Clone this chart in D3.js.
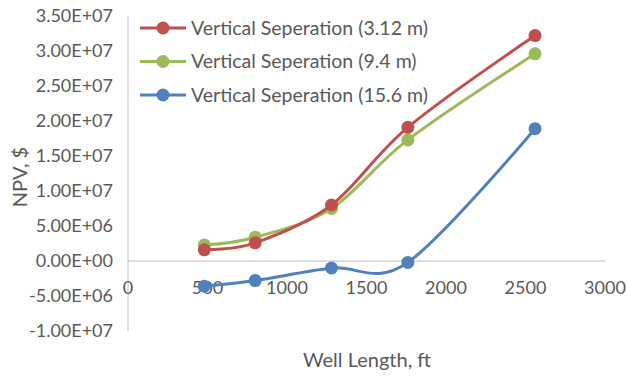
<!DOCTYPE html>
<html>
<head>
<meta charset="utf-8">
<script src="https://cdn.jsdelivr.net/npm/d3@7"></script>
<style>
  body { margin: 0; background: #fff; }
  svg text { font-family: Lato, "Open Sans", sans-serif; fill: #595959; }
</style>
</head>
<body>
<div id="chart"></div>
<script>
var wellLength = [480, 800, 1280, 1760, 2560];
var sep312 = [1.6e6, 2.6e6, 8.0e6, 1.91e7, 3.22e7];
var sep94 = [2.3e6, 3.4e6, 7.5e6, 1.73e7, 2.96e7];
var sep156 = [-3.6e6, -2.8e6, -1.0e6, -0.2e6, 1.89e7];
var seriesNames = ["Vertical Seperation (3.12 m)", "Vertical Seperation (9.4 m)", "Vertical Seperation (15.6 m)"];
var seriesColors = ["#c0504d", "#9bbb59", "#4f81bd"];
var xTicks = [0, 500, 1000, 1500, 2000, 2500, 3000];
var yTicks = [-1e7, -5e6, 0, 5e6, 1e7, 1.5e7, 2e7, 2.5e7, 3e7, 3.5e7];

var width = 627, height = 377;
var svg = d3.select("#chart").append("svg")
    .attr("width", width)
    .attr("height", height);

var x = d3.scaleLinear().domain([0, 3000]).range([128, 605]);
var y = d3.scaleLinear().domain([-1e7, 3.5e7]).range([331, 16]);

// axis lines
svg.append("line")
    .attr("x1", x(0)).attr("x2", x(0))
    .attr("y1", y(3.5e7)).attr("y2", y(-1e7))
    .attr("stroke", "#bfbfbf").attr("stroke-width", 1);
svg.append("line")
    .attr("x1", x(0)).attr("x2", x(3000))
    .attr("y1", y(0)).attr("y2", y(0))
    .attr("stroke", "#bfbfbf").attr("stroke-width", 1);

function fmt(v) {
    if (v == 0) return "0.00E+00";
    var e = Math.floor(Math.log10(Math.abs(v)));
    var m = v / Math.pow(10, e);
    return m.toFixed(2) + "E+" + (e < 10 ? "0" + e : e);
}

svg.selectAll(".ylab").data(yTicks).enter().append("text")
    .attr("class", "ylab")
    .attr("x", 113)
    .attr("y", d => y(d))
    .attr("dy", "0.35em")
    .attr("text-anchor", "end")
    .style("font-size", "18px")
    .text(fmt);

svg.selectAll(".xlab").data(xTicks).enter().append("text")
    .attr("class", "xlab")
    .attr("x", d => x(d))
    .attr("y", y(0) + 27)
    .attr("dy", "0.35em")
    .attr("text-anchor", "middle")
    .style("font-size", "18px")
    .text(d => d);

svg.append("text")
    .attr("transform", "translate(27," + 177 + ") rotate(-90)")
    .attr("text-anchor", "middle")
    .style("font-size", "20px")
    .text("NPV, $");

svg.append("text")
    .attr("x", 367)
    .attr("y", 367)
    .attr("text-anchor", "middle")
    .style("font-size", "20px")
    .text("Well Length, ft");

var allSeries = [sep312, sep94, sep156];
var line = d3.line()
    .x(d => x(d[0]))
    .y(d => y(d[1]))
    .curve(d3.curveCardinal.tension(0));

// draw blue first so red/green sit on top like the original
[2, 1, 0].forEach(function(i) {
    var pts = wellLength.map((w, j) => [w, allSeries[i][j]]);
    var g = svg.append("g");
    g.append("path")
        .attr("d", line(pts))
        .attr("fill", "none")
        .attr("stroke", seriesColors[i])
        .attr("stroke-width", 3);
    g.selectAll("circle").data(pts).enter().append("circle")
        .attr("cx", d => x(d[0]))
        .attr("cy", d => y(d[1]))
        .attr("r", 6.5)
        .attr("fill", seriesColors[i]);
});

// legend
var legend = svg.append("g");
seriesNames.forEach(function(name, i) {
    var ly = 28 + i * 33.5;
    legend.append("line")
        .attr("x1", 140).attr("x2", 186)
        .attr("y1", ly).attr("y2", ly)
        .attr("stroke", seriesColors[i]).attr("stroke-width", 3);
    legend.append("circle")
        .attr("cx", 163).attr("cy", ly).attr("r", 6.5)
        .attr("fill", seriesColors[i]);
    legend.append("text")
        .attr("x", 191).attr("y", ly)
        .attr("dy", "0.35em")
        .style("font-size", "19.5px")
        .text(name);
});
</script>
</body>
</html>
